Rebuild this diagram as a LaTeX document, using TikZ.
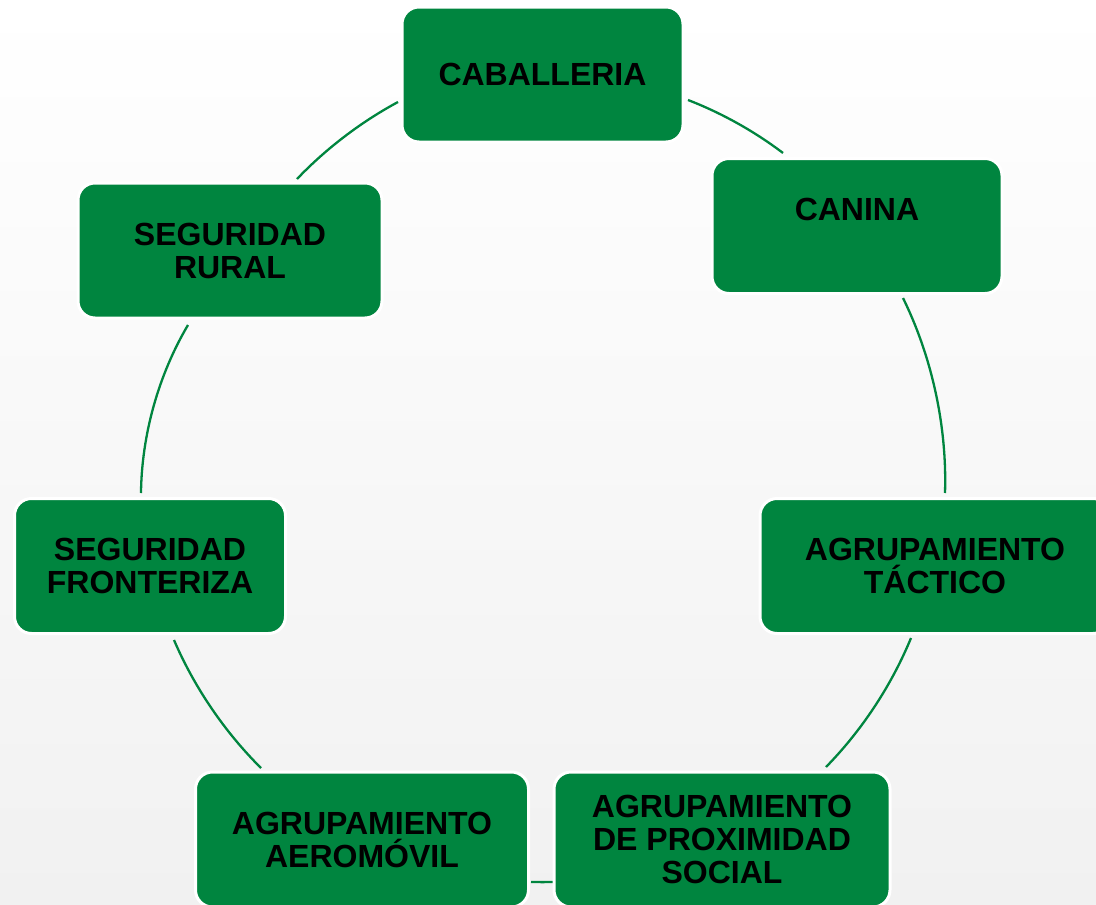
\documentclass[tikz,border=0pt]{standalone}
\usepackage{fontspec}
\setmainfont{Liberation Sans}
\definecolor{boxgreen}{RGB}{0,133,63}
\definecolor{bgbottom}{RGB}{241,241,241}
\begin{document}
\begin{tikzpicture}[x=1pt,y=-1pt,
  box/.style={draw=white, line width=3pt, fill=boxgreen, rounded corners=17pt,
    minimum height=135pt, align=center, inner sep=0pt, text=black,
    font=\fontsize{32}{33}\selectfont\bfseries},
  ring/.style={draw=boxgreen, line width=2.3pt, looseness=0.85}]
\fill[top color=white, bottom color=bgbottom] (0,0) rectangle (1096,905);
\useasboundingbox (0,0) rectangle (1096,905);
\clip (0,0) rectangle (1096,905);

% arc end points
\coordinate (a1) at (688,100);
\coordinate (a2) at (783,153);
\coordinate (b1) at (903,298);
\coordinate (b2) at (945,493);
\coordinate (c1) at (911,638);
\coordinate (c2) at (826,767);
\coordinate (d1) at (554,882);
\coordinate (d2) at (531,882);
\coordinate (e1) at (261,768);
\coordinate (e2) at (174,640);
\coordinate (f1) at (141,493);
\coordinate (f2) at (188,325);
\coordinate (g1) at (297,179);
\coordinate (g2) at (398,102);

\draw[ring] (a1) to[bend left=8] (a2);
\draw[ring] (b1) to[bend left=14] (b2);
\draw[ring] (c1) to[bend left=11] (c2);
\draw[ring] (d1) to[bend left=1] (d2);
\draw[ring] (e1) to[bend left=11] (e2);
\draw[ring] (f1) to[bend left=15] (f2);
\draw[ring] (g1) to[bend left=9] (g2);

\node[box, minimum width=281pt] (cab) at (542.5,74.5) {CABALLERIA};
\node[box, minimum width=290pt] (can) at (857,226) {CANINA\\~};
\node[box, minimum width=350pt] (tac) at (935,566) {AGRUPAMIENTO\\TÁCTICO};
\node[box, minimum width=336pt] (prox) at (722,839.5) {AGRUPAMIENTO\\DE PROXIMIDAD\\SOCIAL};
\node[box, minimum width=333pt] (aero) at (362,839.5) {AGRUPAMIENTO\\AEROMÓVIL};
\node[box, minimum width=271pt] (fro) at (150,566) {SEGURIDAD\\FRONTERIZA};
\node[box, minimum width=304pt] (rur) at (230,250.5) {SEGURIDAD\\RURAL};
\end{tikzpicture}
\end{document}
